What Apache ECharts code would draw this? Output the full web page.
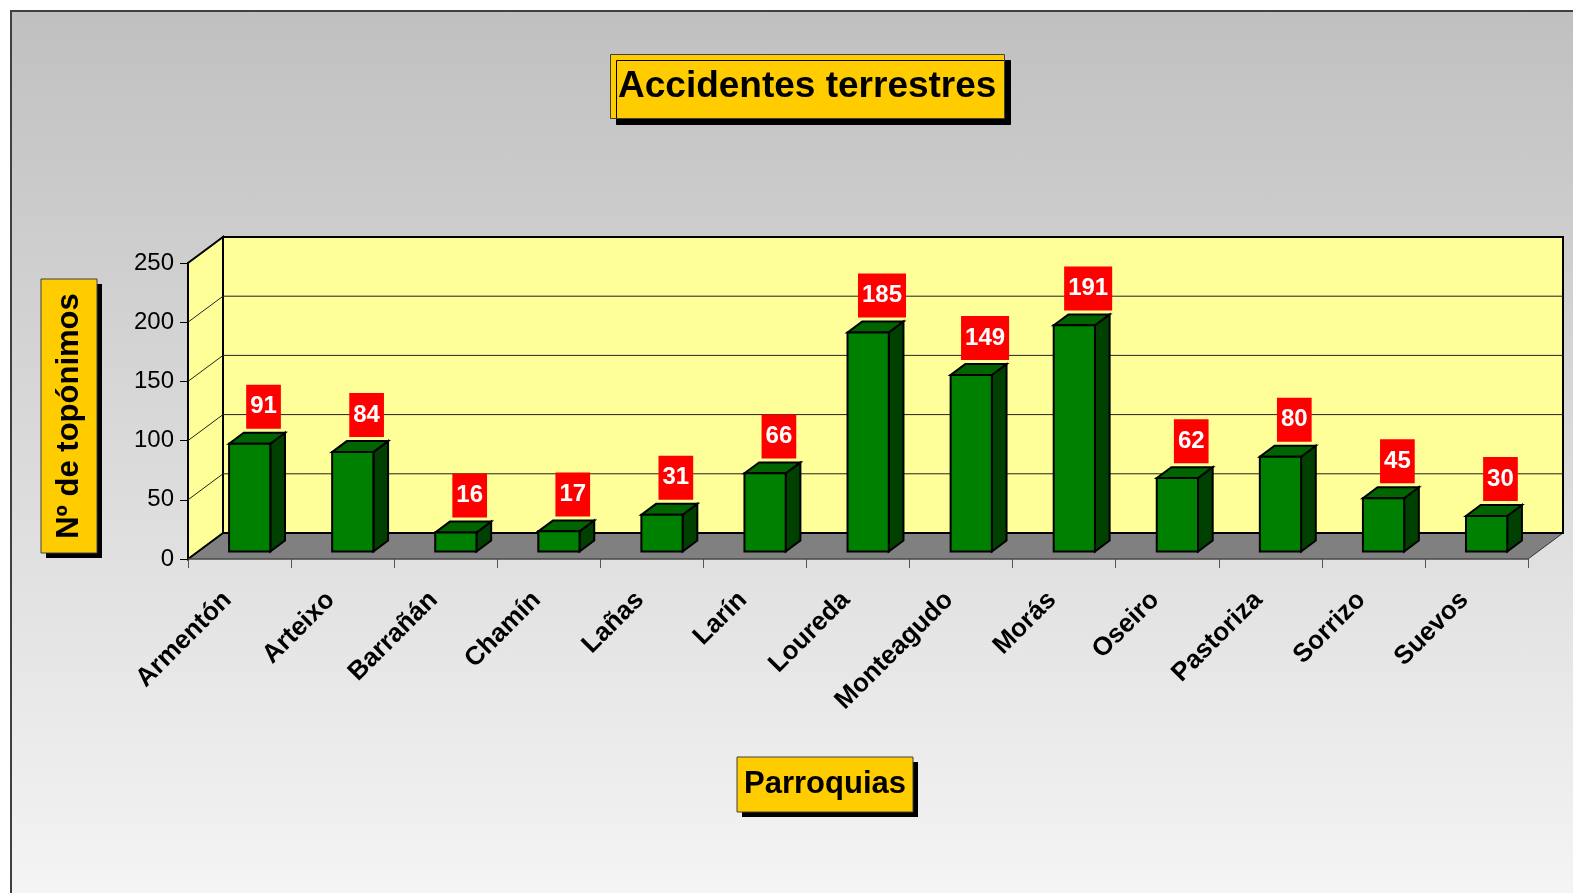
<!DOCTYPE html>
<html>
<head>
<meta charset="utf-8">
<script src="https://cdn.jsdelivr.net/npm/echarts@6/dist/echarts.min.js"></script>
<style>
  html, body { margin: 0; padding: 0; background: #fff; overflow: hidden; }
  #bg {
    position: absolute; left: 10px; top: 10px; width: 1600px; height: 900px;
    border-left: 2px solid #404040; border-top: 2px solid #404040;
    background: linear-gradient(to bottom, #c0c0c0 0px, #f4f4f4 880px);
  }
  #chart { position: absolute; left: 0; top: 0; width: 1573px; height: 893px; }
</style>
</head>
<body>
<div id="bg"></div>
<div id="chart"></div>
<script>
// parroquias y nº de topónimos
const categories = ['Armentón', 'Arteixo', 'Barrañán', 'Chamín', 'Lañas', 'Larín', 'Loureda',
  'Monteagudo', 'Morás', 'Oseiro', 'Pastoriza', 'Sorrizo', 'Suevos']
const values = [91, 84, 16, 17, 31, 66, 185, 149, 191, 62, 80, 45, 30]
const yTicks = [0, 50, 100, 150, 200, 250]

const FONT = '"Liberation Sans", Arial, sans-serif'
// desplazamiento de la pared del fondo (efecto 3D)
const DX = 35
const DY = -26
const F0 = 0.29 // profundidad cara frontal de la barra
const F1 = 0.71 // profundidad cara trasera

const chart = echarts.init(document.getElementById('chart'), null, { renderer: 'canvas' })

const renderFrame = (params, api) => {
  const cs = params.coordSys
  const x0 = cs.x
  const x1 = cs.x + cs.width
  const yb = api.coord([0, 0])[1]
  const yt = api.coord([0, yTicks[yTicks.length - 1]])[1]
  const children = []
  // suelo
  children.push({
    type: 'polygon',
    shape: { points: [[x0, yb], [x1, yb], [x1 + DX, yb + DY], [x0 + DX, yb + DY]] },
    style: { fill: '#808080', stroke: '#333', lineWidth: 1 }
  })
  // pared del fondo
  children.push({
    type: 'polygon',
    shape: { points: [[x0 + DX, yt + DY], [x1 + DX, yt + DY], [x1 + DX, yb + DY], [x0 + DX, yb + DY]] },
    style: { fill: '#FFFF99', stroke: '#000', lineWidth: 2 }
  })
  // pared izquierda
  children.push({
    type: 'polygon',
    shape: { points: [[x0, yb], [x0, yt], [x0 + DX, yt + DY], [x0 + DX, yb + DY]] },
    style: { fill: '#FFFF99', stroke: '#000', lineWidth: 2 }
  })
  // líneas de división
  yTicks.slice(1, -1).forEach((t) => {
    const y = api.coord([0, t])[1]
    children.push({
      type: 'line',
      shape: { x1: x0 + DX, y1: y + DY, x2: x1 + DX, y2: y + DY },
      style: { stroke: '#222', lineWidth: 1 }
    })
    children.push({
      type: 'line',
      shape: { x1: x0, y1: y, x2: x0 + DX, y2: y + DY },
      style: { stroke: '#222', lineWidth: 1 }
    })
  })
  children.push({
    type: 'line',
    shape: { x1: x0, y1: yb, x2: x1, y2: yb },
    style: { stroke: '#555', lineWidth: 1 }
  })
  return { type: 'group', children }
}

const renderBar = (params, api) => {
  const i = api.value(0)
  const v = api.value(1)
  const base = api.coord([i, 0])
  const top = api.coord([i, v])
  const bw = api.size([1, 0])[0] * 0.4
  const fx = DX * F0
  const fy = DY * F0
  const ddx = DX * (F1 - F0)
  const ddy = DY * (F1 - F0)
  const left = base[0] - bw / 2 + fx
  const right = left + bw
  const yb = base[1] + fy
  const yt = top[1] + fy
  return {
    type: 'group',
    children: [
      {
        type: 'polygon',
        shape: { points: [[right, yt], [right + ddx, yt + ddy], [right + ddx, yb + ddy], [right, yb]] },
        style: { fill: '#004000', stroke: '#000', lineWidth: 2 }
      },
      {
        type: 'polygon',
        shape: { points: [[left, yt], [right, yt], [right + ddx, yt + ddy], [left + ddx, yt + ddy]] },
        style: { fill: '#006400', stroke: '#000', lineWidth: 2 }
      },
      {
        type: 'rect',
        shape: { x: left, y: yt, width: bw, height: yb - yt },
        style: { fill: '#008000', stroke: '#000', lineWidth: 2 }
      },
      {
        type: 'text',
        style: {
          text: String(v),
          x: base[0] + 24,
          y: top[1] + DY * F1 - 4,
          align: 'center',
          verticalAlign: 'bottom',
          font: 'bold 24px ' + FONT,
          fill: '#fff',
          backgroundColor: '#FF0000',
          padding: [9, 4, 9, 4],
          lineHeight: 26
        }
      }
    ]
  }
}

// caja amarilla con sombra (nombres de ejes)
const labelBox = (x, y, w, h, text, size, vertical) => ({
  type: 'group',
  children: [
    { type: 'rect', shape: { x: x + 5, y: y + 5, width: w, height: h }, style: { fill: '#000' } },
    { type: 'rect', shape: { x, y, width: w, height: h }, style: { fill: '#FFCC00', stroke: '#404040', lineWidth: 1 } },
    {
      type: 'text',
      x: x + w / 2,
      y: y + h / 2,
      rotation: vertical ? Math.PI / 2 : 0,
      style: {
        text,
        font: 'bold ' + size + 'px ' + FONT,
        fill: '#000',
        align: 'center',
        verticalAlign: 'middle'
      }
    }
  ]
})

const option = {
  animation: false,
  title: {
    text: 'Accidentes terrestres',
    left: 610,
    top: 54,
    padding: [14, 8, 14, 8],
    backgroundColor: '#FFCC00',
    borderColor: '#404040',
    borderWidth: 1,
    shadowColor: '#000',
    shadowBlur: 0,
    shadowOffsetX: 6,
    shadowOffsetY: 6,
    textStyle: {
      fontFamily: FONT,
      fontSize: 37,
      fontWeight: 'bold',
      color: '#000',
      lineHeight: 37
    }
  },
  graphic: [
    labelBox(737, 757, 176, 55, 'Parroquias', 31, false),
    labelBox(41, 279, 56, 274, 'Nº de topónimos', 31, true)
  ],
  grid: { left: 188, top: 263, width: 1340, height: 296 },
  xAxis: {
    type: 'category',
    data: categories,
    axisLine: { show: false },
    axisTick: { show: true, length: 9, lineStyle: { color: '#555' } },
    axisLabel: {
      interval: 0,
      rotate: 45,
      margin: 25,
      padding: [0, 17, 0, 0],
      fontFamily: FONT,
      fontSize: 26,
      fontWeight: 'bold',
      color: '#000'
    },
    splitLine: { show: false }
  },
  yAxis: {
    type: 'value',
    min: 0,
    max: 250,
    interval: 50,
    axisLine: { show: true, lineStyle: { color: '#000', width: 2 } },
    axisTick: { show: true, length: 8, lineStyle: { color: '#000' } },
    axisLabel: { margin: 14, fontFamily: FONT, fontSize: 24, color: '#000' },
    splitLine: { show: false }
  },
  series: [
    {
      type: 'custom',
      z: 1,
      silent: true,
      renderItem: renderFrame,
      data: [[0, 0]]
    },
    {
      type: 'custom',
      z: 3,
      renderItem: renderBar,
      data: categories.map((c, i) => [i, values[i]])
    }
  ]
}

chart.setOption(option)
</script>
</body>
</html>
